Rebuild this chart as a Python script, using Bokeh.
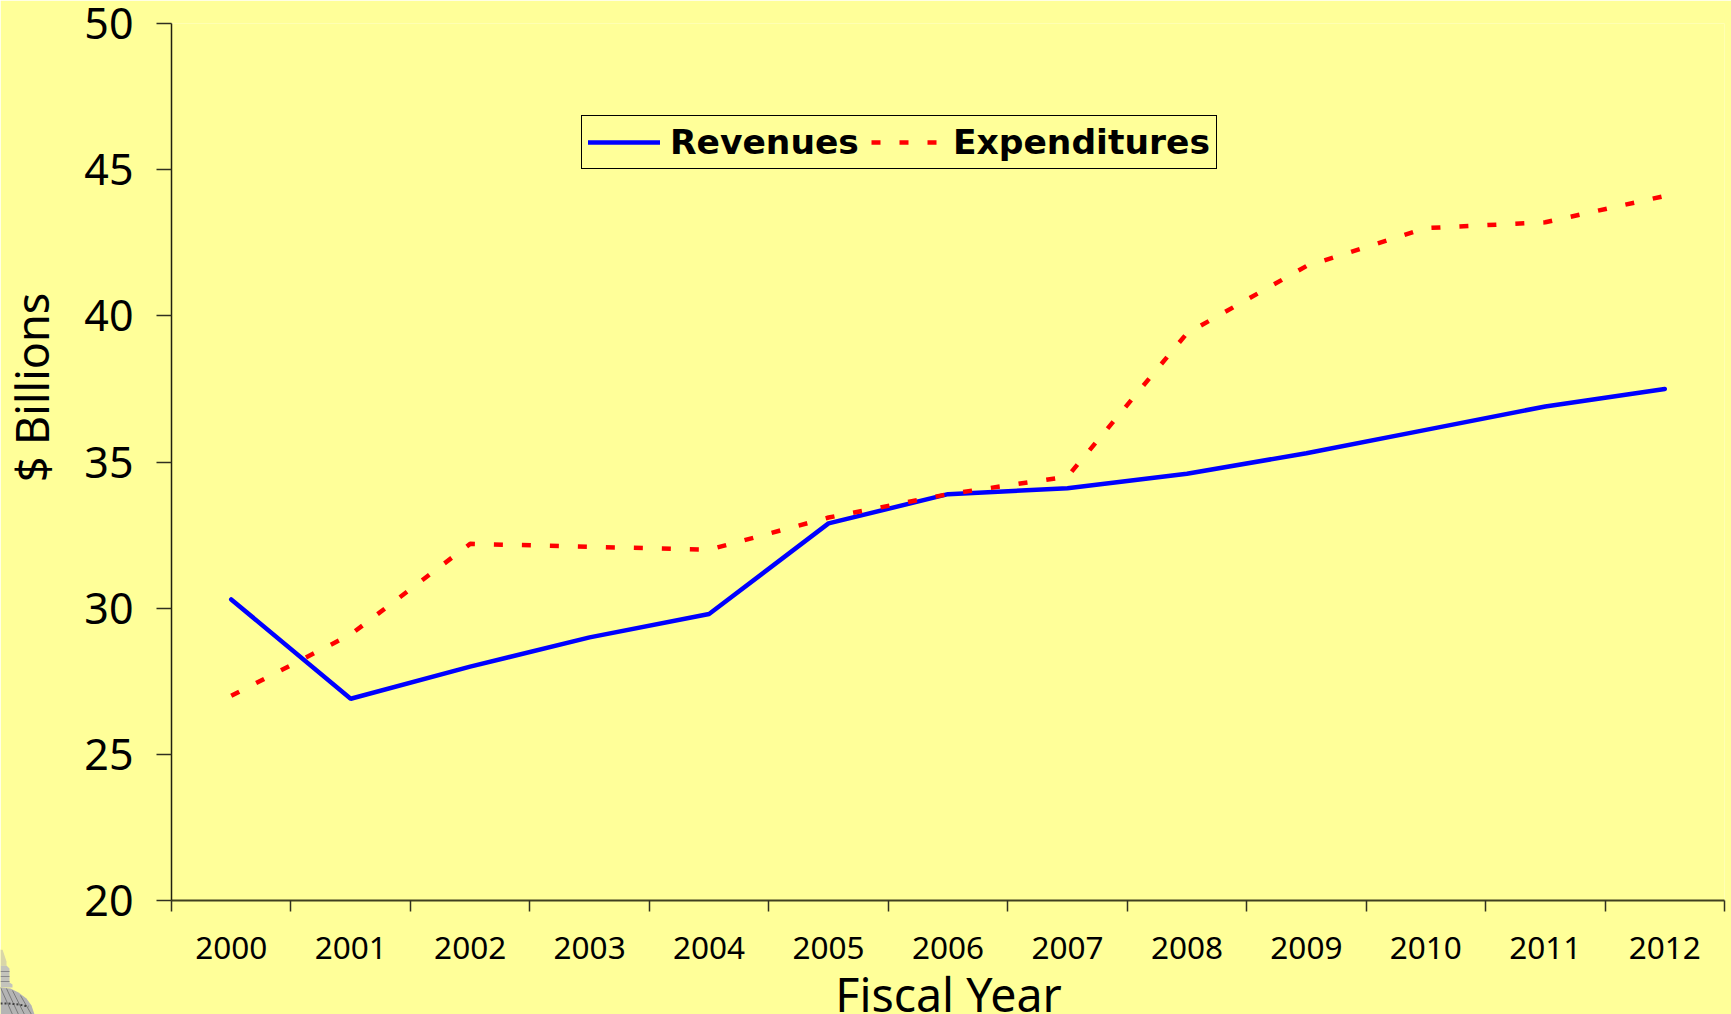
import math
from bokeh.plotting import figure
from bokeh.embed import file_html
from bokeh.resources import INLINE
from bokeh.models import Range1d, FixedTicker, Legend, LegendItem, Label

years = list(range(2000, 2013))
revenues = [30.3, 26.9, 28.0, 29.0, 29.8, 32.9, 33.9, 34.1, 34.6, 35.3, 36.1, 36.9, 37.5]
expenditures = [27.0, 29.1, 32.2, 32.1, 32.0, 33.1, 33.9, 34.5, 39.4, 41.7, 43.0, 43.2, 44.1]
y_ticks = [20, 25, 30, 35, 40, 45, 50]
BG = "#FFFF99"
FONT = "Noto Sans"

p = figure(width=1731, height=1014, frame_width=1553, frame_height=877,
           output_backend="svg", toolbar_location=None,
           x_range=Range1d(1999.5, 2012.5), y_range=Range1d(20, 50),
           background_fill_color=BG, border_fill_color=BG, outline_line_color=None,
           min_border_left=171, min_border_right=7, min_border_top=23, min_border_bottom=114)
p.styles = {"position": "absolute", "left": "0", "top": "0"}
p.grid.visible = False

ax = p.xaxis[0]
ax.ticker = FixedTicker(ticks=years, minor_ticks=[y - 0.5 for y in years] + [2012.5])
ax.major_label_overrides = {y: str(y) for y in years}
ax.major_tick_line_color = None
ax.major_tick_in = 0
ax.major_tick_out = 11
ax.minor_tick_in = 0
ax.minor_tick_out = 11
ax.minor_tick_line_color = "#303020"
ax.minor_tick_line_width = 1.5
ax.axis_line_color = "#404020"
ax.axis_line_width = 2
ax.major_label_text_font = FONT
ax.major_label_text_font_size = "31.5px"
ax.major_label_text_color = "#000000"
ax.major_label_standoff = 25

ay = p.yaxis[0]
ay.ticker = FixedTicker(ticks=y_ticks, minor_ticks=[])
ay.major_tick_in = 0
ay.major_tick_out = 15
ay.major_tick_line_color = "#303020"
ay.major_tick_line_width = 1.5
ay.axis_line_color = "#202010"
ay.axis_line_width = 1.5
ay.major_label_text_font = FONT
ay.major_label_text_font_size = "43px"
ay.major_label_text_color = "#000000"
ay.major_label_standoff = 23

r1 = p.line(years, revenues, line_color="#0000FF", line_width=4.5, line_cap="round")
r2 = p.line(years, expenditures, line_color="#FF0000", line_width=4.5, line_dash="9 19")

legend = Legend(items=[LegendItem(label="Revenues", renderers=[r1]),
                       LegendItem(label="Expenditures", renderers=[r2])],
                orientation="horizontal", location=(410, 731),
                background_fill_color=BG, background_fill_alpha=1,
                border_line_color="#000000", border_line_width=1.5, border_line_alpha=1,
                label_text_font="DejaVu Sans", label_text_font_style="bold",
                label_text_font_size="34.5px", label_text_color="#000000",
                glyph_width=72, glyph_height=30, label_standoff=10, spacing=12,
                padding=6, margin=0)
p.add_layout(legend)

p.add_layout(Label(x=948, y=993, x_units="canvas", y_units="canvas", text="Fiscal Year",
                   text_font=FONT, text_font_size="46.5px", text_color="#000000",
                   text_align="center", text_baseline="middle"), "below")
p.add_layout(Label(x=31, y=387, x_units="canvas", y_units="canvas", text="$ Billions",
                   angle=math.pi / 2, text_font=FONT, text_font_size="45px",
                   text_color="#000000", text_align="center", text_baseline="middle"), "left")

# Capitol dome ornament in the bottom-left corner, as a small figure of its own
d = figure(width=36, height=65, output_backend="svg", toolbar_location=None,
           x_range=Range1d(0, 36), y_range=Range1d(65, 0),
           background_fill_color=BG, border_fill_color=BG, outline_line_color=None,
           min_border=0, x_axis_type=None, y_axis_type=None)
d.styles = {"position": "absolute", "left": "0", "top": "949px"}
d.grid.visible = False
d.patch([0, 2, 4, 6, 6, 0], [0, 0, 6, 12, 16, 16], fill_color="#D9D6A8", line_color=None)
d.patch([0, 6, 9, 9, 12, 12, 0], [16, 16, 19, 33, 35, 38, 38], fill_color="#C4C4BC", line_color=None)
d.patch([0, 10, 18, 26, 31, 34, 0], [38, 39, 43, 49, 56, 65, 65], fill_color="#B4B4B4", line_color=None)
d.multi_line([[0, 9], [0, 9], [0, 9]], [[22, 22], [27, 27], [32, 32]], line_color="#8A8A8A", line_width=1)
d.multi_line([[0, 12], [6, 18], [12, 24], [20, 31]], [[38, 65], [39, 65], [41, 65], [46, 65]],
             line_color="#7A7A7A", line_width=1)
d.line([0, 8, 18, 28], [54, 54, 55, 57], line_color="#404040", line_width=2, line_dash="2 2")

open("out.html", "w").write(file_html([p, d], INLINE))
